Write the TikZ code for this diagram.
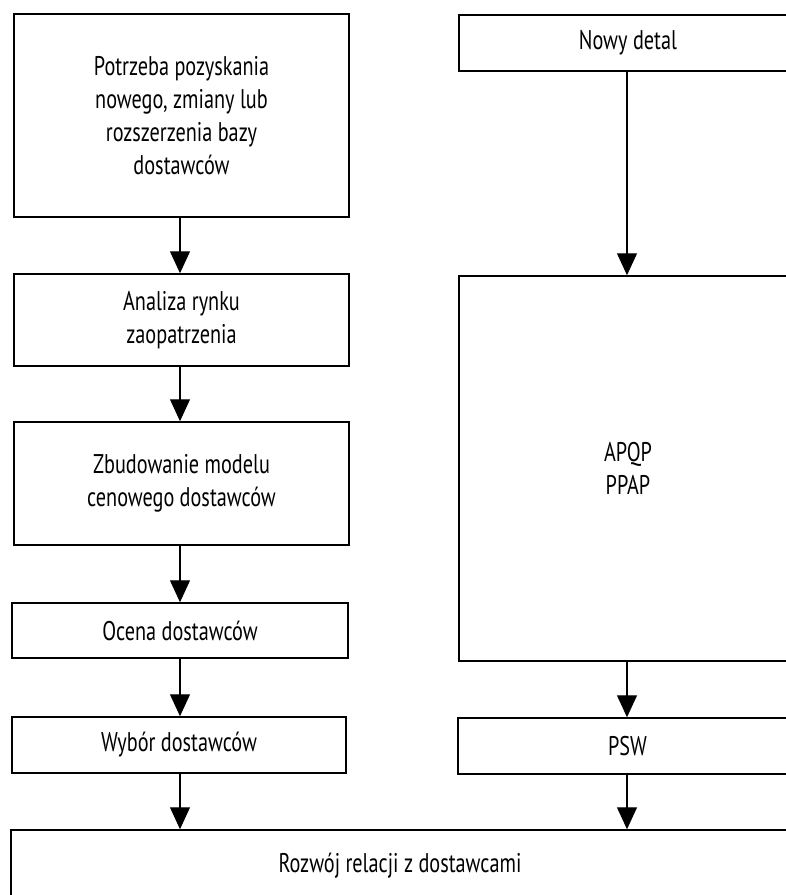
\documentclass[tikz,border=0pt]{standalone}
\usepackage{fontspec}
\setmainfont[FakeStretch=0.75]{PT Sans}
\usetikzlibrary{arrows.meta}

\tikzset{
  stepbox/.style={draw, line width=1.5pt, rectangle, inner sep=0pt,
    align=center, font=\fontsize{27}{33}\selectfont},
  flow/.style={line width=1.3pt, -{Triangle[length=22pt,width=20pt]}}
}

\begin{document}
\begin{tikzpicture}[x=1pt,y=-1pt]
\useasboundingbox (0,0) rectangle (786,895);
\clip (0,0) rectangle (786,895);

% left column: supplier selection path
\node[stepbox, minimum width=335pt, minimum height=203pt] (need) at (181.5,115.5)
  {Potrzeba pozyskania\\nowego, zmiany lub\\rozszerzenia bazy\\dostawców};
\node[stepbox, minimum width=335pt, minimum height=92pt] (market) at (181.5,320)
  {Analiza rynku\\zaopatrzenia};
\node[stepbox, minimum width=335pt, minimum height=123pt] (model) at (181.5,483.5)
  {Zbudowanie modelu\\cenowego dostawców};
\node[stepbox, minimum width=336pt, minimum height=55pt] (rate) at (180,630.5)
  {Ocena dostawców};
\node[stepbox, minimum width=334pt, minimum height=56pt] (pick) at (179,745)
  {Wybór dostawców};

% right column: new part path
\node[stepbox, minimum width=338pt, minimum height=56pt] (part) at (628,43)
  {Nowy detal};
\node[stepbox, minimum width=338pt, minimum height=385pt] (apqp) at (628,468.5)
  {APQP\\PPAP};
\node[stepbox, minimum width=339pt, minimum height=56pt] (psw) at (627.5,746)
  {PSW};

% common final step
\node[stepbox, minimum width=778pt, minimum height=72pt] (dev) at (400,866)
  {Rozwój relacji z dostawcami};

% connectors
\draw[flow] (need.south -| 180,0) -- (market.north -| 180,0);
\draw[flow] (market.south -| 180,0) -- (model.north -| 180,0);
\draw[flow] (model.south -| 180,0) -- (rate.north -| 180,0);
\draw[flow] (rate.south -| 180,0) -- (pick.north -| 180,0);
\draw[flow] (pick.south -| 180,0) -- (dev.north -| 180,0);
\draw[flow] (part.south -| 627,0) -- (apqp.north -| 627,0);
\draw[flow] (apqp.south -| 627,0) -- (psw.north -| 627,0);
\draw[flow] (psw.south -| 627,0) -- (dev.north -| 627,0);
\end{tikzpicture}
\end{document}
